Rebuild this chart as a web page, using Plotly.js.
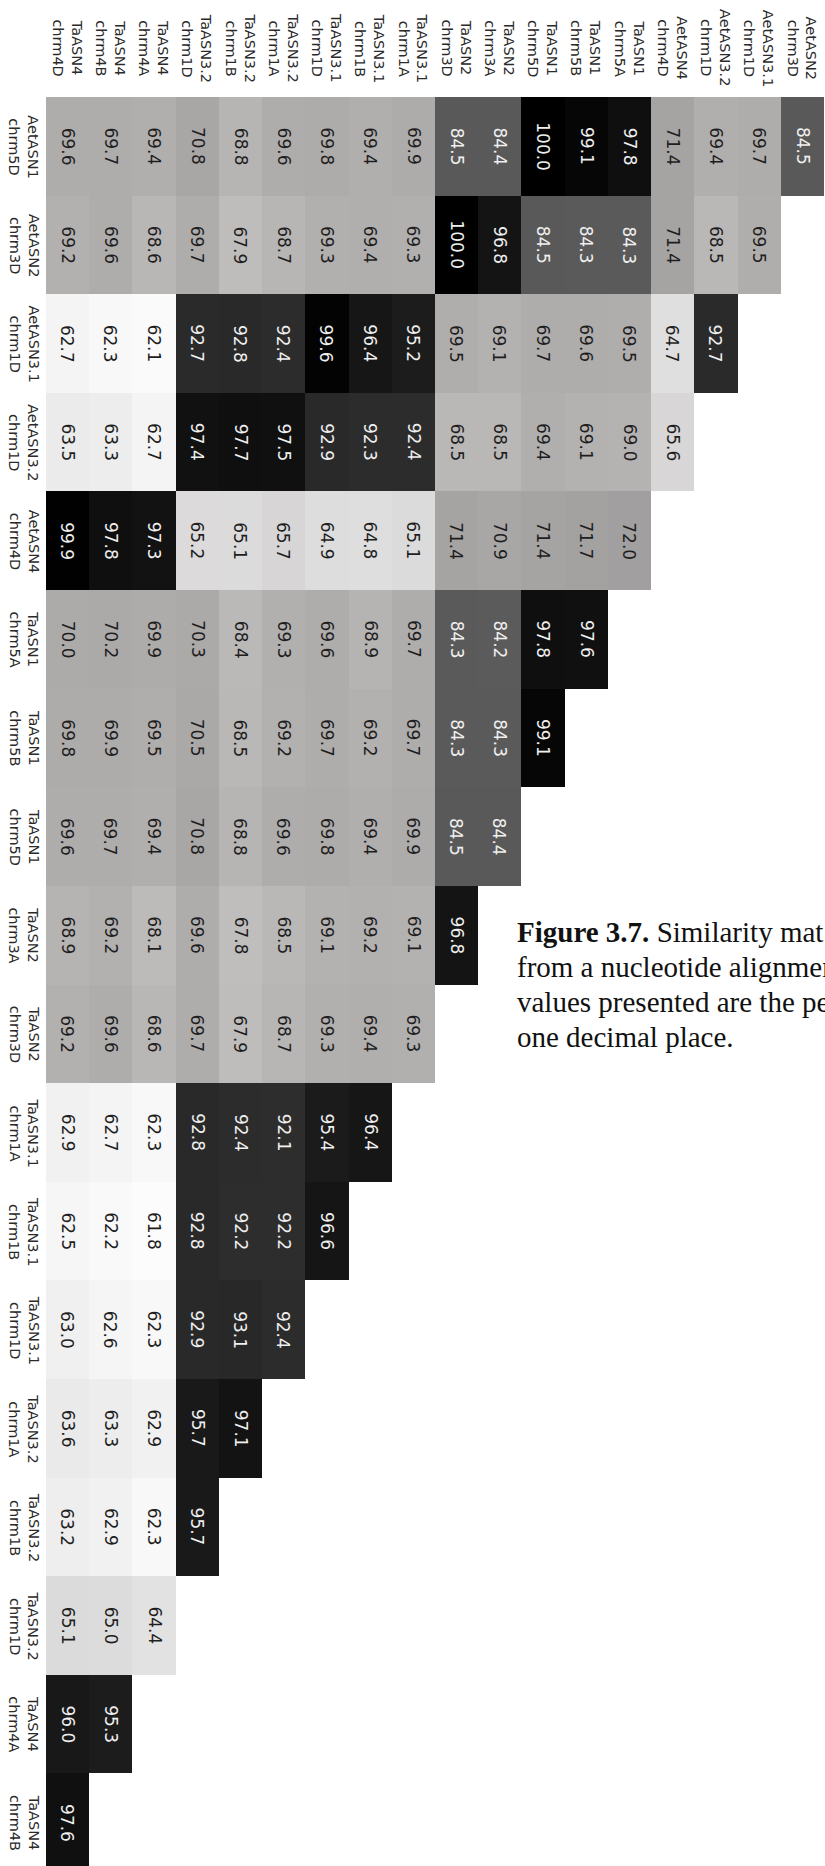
<!DOCTYPE html>
<html>
<head>
<meta charset="utf-8">
<script src="https://cdn.plot.ly/plotly-3.0.1.min.js"></script>
<style>
  html, body { margin: 0; padding: 0; overflow: hidden; background: #ffffff; }
  #chart { width: 825px; height: 1872px; }
</style>
</head>
<body>
<div id="chart"></div>
<script>
// Sequence labels (gene / chromosome), in matrix order
const sequences = [
  'AetASN1<br>chrm5D', 'AetASN2<br>chrm3D', 'AetASN3.1<br>chrm1D', 'AetASN3.2<br>chrm1D',
  'AetASN4<br>chrm4D', 'TaASN1<br>chrm5A', 'TaASN1<br>chrm5B', 'TaASN1<br>chrm5D',
  'TaASN2<br>chrm3A', 'TaASN2<br>chrm3D', 'TaASN3.1<br>chrm1A', 'TaASN3.1<br>chrm1B',
  'TaASN3.1<br>chrm1D', 'TaASN3.2<br>chrm1A', 'TaASN3.2<br>chrm1B', 'TaASN3.2<br>chrm1D',
  'TaASN4<br>chrm4A', 'TaASN4<br>chrm4B', 'TaASN4<br>chrm4D'
];

// Percent identity of each row sequence against the later sequences,
// listed from TaASN4 chrm4D backwards
const aetASN1_5D  = [69.6, 69.7, 69.4, 70.8, 68.8, 69.6, 69.8, 69.4, 69.9, 84.5, 84.4, 100.0, 99.1, 97.8, 71.4, 69.4, 69.7, 84.5];
const aetASN2_3D  = [69.2, 69.6, 68.6, 69.7, 67.9, 68.7, 69.3, 69.4, 69.3, 100.0, 96.8, 84.5, 84.3, 84.3, 71.4, 68.5, 69.5];
const aetASN31_1D = [62.7, 62.3, 62.1, 92.7, 92.8, 92.4, 99.6, 96.4, 95.2, 69.5, 69.1, 69.7, 69.6, 69.5, 64.7, 92.7];
const aetASN32_1D = [63.5, 63.3, 62.7, 97.4, 97.7, 97.5, 92.9, 92.3, 92.4, 68.5, 68.5, 69.4, 69.1, 69.0, 65.6];
const aetASN4_4D  = [99.9, 97.8, 97.3, 65.2, 65.1, 65.7, 64.9, 64.8, 65.1, 71.4, 70.9, 71.4, 71.7, 72.0];
const taASN1_5A   = [70.0, 70.2, 69.9, 70.3, 68.4, 69.3, 69.6, 68.9, 69.7, 84.3, 84.2, 97.8, 97.6];
const taASN1_5B   = [69.8, 69.9, 69.5, 70.5, 68.5, 69.2, 69.7, 69.2, 69.7, 84.3, 84.3, 99.1];
const taASN1_5D   = [69.6, 69.7, 69.4, 70.8, 68.8, 69.6, 69.8, 69.4, 69.9, 84.5, 84.4];
const taASN2_3A   = [68.9, 69.2, 68.1, 69.6, 67.8, 68.5, 69.1, 69.2, 69.1, 96.8];
const taASN2_3D   = [69.2, 69.6, 68.6, 69.7, 67.9, 68.7, 69.3, 69.4, 69.3];
const taASN31_1A  = [62.9, 62.7, 62.3, 92.8, 92.4, 92.1, 95.4, 96.4];
const taASN31_1B  = [62.5, 62.2, 61.8, 92.8, 92.2, 92.2, 96.6];
const taASN31_1D  = [63.0, 62.6, 62.3, 92.9, 93.1, 92.4];
const taASN32_1A  = [63.6, 63.3, 62.9, 95.7, 97.1];
const taASN32_1B  = [63.2, 62.9, 62.3, 95.7];
const taASN32_1D  = [65.1, 65.0, 64.4];
const taASN4_4A   = [96.0, 95.3];
const taASN4_4B   = [97.6];

const matrixRows = [
  aetASN1_5D, aetASN2_3D, aetASN31_1D, aetASN32_1D, aetASN4_4D, taASN1_5A,
  taASN1_5B, taASN1_5D, taASN2_3A, taASN2_3D, taASN31_1A, taASN31_1B,
  taASN31_1D, taASN32_1A, taASN32_1B, taASN32_1D, taASN4_4A, taASN4_4B
];

// caption text as it runs up to the page edge
const captionLines = [
  '<b>Figure 3.7.</b> Similarity mat',
  'from a nucleotide alignmen',
  'values presented are the pe',
  'one decimal place.'
];

// grey ramp: white at the lowest identity, black at 100 %
const zMin = 61.8, zMax = 100;
const greyStops = [
  [61.8, '#fcfcfc'], [62.3, '#f8f8f8'], [63.3, '#ededed'], [64.7, '#e0dfdf'],
  [65.6, '#d8d6d7'], [67.8, '#c0bdbd'], [68.5, '#bab7b7'], [69.5, '#b0adad'],
  [71.4, '#a6a3a3'], [72.0, '#a19f9f'], [84.3, '#5b5a5a'], [92.7, '#2a2a2a'],
  [95.2, '#1c1c1c'], [97.8, '#0f0f0f'], [100.0, '#000000']
];
const colorscale = greyStops.map(([v, c]) => [(v - zMin) / (zMax - zMin), c]);

const yCats = sequences.slice(0, 18);
const xCats = sequences.slice(1).reverse();

const z = matrixRows.map(row => xCats.map((_, k) => (k < row.length ? row[k] : null)));

const annotations = [];

// cell values, rotated to read top-to-bottom
matrixRows.forEach((row, i) => {
  row.forEach((v, k) => {
    annotations.push({
      x: xCats[k], y: yCats[i], xref: 'x', yref: 'y',
      text: v.toFixed(1), showarrow: false, textangle: 90,
      font: { family: 'DejaVu Sans', size: 17, color: v > 80 ? '#efefef' : '#1e1e1e' }
    });
  });
});

// column labels above the grid
xCats.forEach(c => {
  annotations.push({
    x: c, xref: 'x', y: 1, yref: 'paper', yanchor: 'middle', xanchor: 'center',
    yshift: 49, text: c, showarrow: false, textangle: 90, align: 'center',
    font: { family: 'DejaVu Sans', size: 14.5, color: '#2a2a2a' }
  });
});

// row labels left of the grid
yCats.forEach(c => {
  annotations.push({
    x: 0, xref: 'paper', xanchor: 'center', xshift: -22, y: c, yref: 'y', yanchor: 'middle',
    text: c, showarrow: false, textangle: 90, align: 'center',
    font: { family: 'DejaVu Sans', size: 14.5, color: '#2a2a2a' }
  });
});

// figure caption, one annotation per line
const plotTop = 97, plotHeight = 1775;
captionLines.forEach((line, n) => {
  const centreY = 932 + n * 35;
  annotations.push({
    x: 0, xref: 'paper', xshift: 515 - 46, xanchor: 'left',
    y: 1, yref: 'paper', yanchor: 'middle', yshift: -(centreY - plotTop),
    text: line, showarrow: false, align: 'left',
    font: { family: 'Liberation Serif', size: 29, color: '#111111' }
  });
});

const trace = {
  type: 'heatmap',
  x: xCats, y: yCats, z: z,
  zmin: zMin, zmax: zMax,
  colorscale: colorscale,
  showscale: false,
  hoverinfo: 'skip',
  xgap: 0, ygap: 0
};

const layout = {
  width: 825, height: plotTop + plotHeight,
  margin: { l: 46, r: 1.4, t: plotTop, b: 0, pad: 0 },
  paper_bgcolor: '#ffffff', plot_bgcolor: '#ffffff',
  xaxis: { type: 'category', showticklabels: false, showgrid: false, zeroline: false,
           ticks: '', showline: false, range: [-0.5, 17.5], fixedrange: true },
  yaxis: { type: 'category', showticklabels: false, showgrid: false, zeroline: false,
           ticks: '', showline: false, range: [17.5, -0.5], fixedrange: true },
  annotations: annotations,
  showlegend: false
};

Plotly.newPlot('chart', [trace], layout, { staticPlot: true, displayModeBar: false });
</script>
</body>
</html>
